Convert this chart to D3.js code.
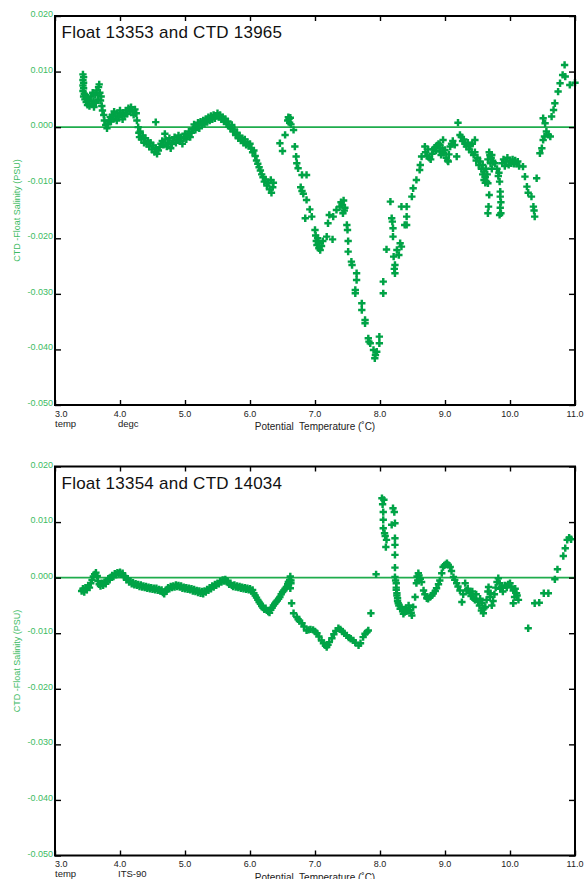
<!DOCTYPE html>
<html>
<head>
<meta charset="utf-8">
<script src="https://cdn.jsdelivr.net/npm/d3@7"></script>
<style>
  body { margin: 0; background: #fff; }
  svg { display: block; }
  text { font-family: "Liberation Sans", Arial, Helvetica, sans-serif; }
</style>
</head>
<body>
<svg id="chart" width="586" height="879"></svg>
<script>
// Potential temperature axis (deg C)
const tempTicks = [3, 4, 5, 6, 7, 8, 9, 10, 11];
const tempTickLabels = ["3.0", "4.0", "5.0", "6.0", "7.0", "8.0", "9.0", "10.0", "11.0"];

// Salinity difference axis (PSU)
const salTicks = [0.02, 0.01, 0, -0.01, -0.02, -0.03, -0.04, -0.05];
const salTickLabels = ["0.020", "0.010", "0.000", "-0.010", "-0.020", "-0.030", "-0.040", "-0.050"];

// CTD minus float salinity, [potential temperature, difference]
const profile13353 = [
  [3.43,0.0095],[3.44,0.0090],[3.43,0.0085],[3.44,0.0080],[3.43,0.0075],[3.44,0.0070],[3.43,0.0065],[3.45,0.0060],[3.44,0.0055],[3.46,0.0050],[3.47,0.0058],[3.48,0.0045],[3.49,0.0052],[3.50,0.0040],
  [3.52,0.0048],[3.53,0.0038],[3.55,0.0055],[3.56,0.0042],[3.58,0.0062],[3.59,0.0047],[3.60,0.0036],[3.62,0.0058],[3.63,0.0044],[3.64,0.0066],[3.66,0.0050],[3.67,0.0072],[3.68,0.0077],[3.69,0.0062],[3.70,0.0048],[3.71,0.0055],[3.72,0.0038],[3.73,0.0030],[3.75,0.0022],[3.76,0.0012],[3.78,0.0004],[3.80,-0.0002],[3.81,0.0005],
  [3.83,0.0012],[3.85,0.0018],[3.86,0.0010],[3.88,0.0022],[3.90,0.0015],[3.91,0.0028],[3.93,0.0020],[3.95,0.0012],[3.96,0.0025],[3.98,0.0018],[4.00,0.0030],[4.02,0.0022],[4.04,0.0014],[4.05,0.0026],[4.07,0.0020],[4.09,0.0030],[4.11,0.0024],[4.13,0.0034],[4.15,0.0028],[4.17,0.0036],[4.19,0.0030],[4.21,0.0022],[4.23,0.0032],[4.25,0.0025],[4.26,0.0012],
  [4.28,0.0000],[4.29,-0.0010],[4.30,-0.0018],[4.31,-0.0008],
  [4.33,-0.0022],[4.35,-0.0015],[4.37,-0.0028],[4.39,-0.0020],[4.41,-0.0030],[4.43,-0.0025],[4.45,-0.0035],[4.47,-0.0028],[4.49,-0.0040],[4.51,-0.0033],[4.53,-0.0045],[4.55,0.0009],[4.55,-0.0038],[4.57,-0.0048],[4.59,-0.0042],[4.61,-0.0036],[4.63,-0.0030],[4.65,-0.0025],[4.67,-0.0032],[4.69,-0.0012],[4.70,-0.0022],[4.72,-0.0035],[4.74,-0.0028],[4.76,-0.0020],[4.78,-0.0038],[4.80,-0.0030],[4.82,-0.0024],[4.84,-0.0018],[4.86,-0.0028],[4.88,-0.0022],[4.90,-0.0015],[4.92,-0.0025],[4.94,-0.0018],[4.96,-0.0030],[4.98,-0.0020],[5.00,-0.0012],[5.02,-0.0022],[5.04,-0.0015],[5.06,-0.0008],[5.08,-0.0018],[5.10,-0.0010],
  [5.12,-0.0003],[5.14,0.0005],[5.16,-0.0005],[5.18,0.0002],[5.20,0.0008],[5.22,-0.0002],[5.24,0.0010],[5.26,0.0004],[5.28,0.0012],[5.30,0.0006],[5.32,0.0015],[5.34,0.0009],[5.36,0.0018],[5.38,0.0012],[5.40,0.0020],[5.42,0.0014],[5.44,0.0022],[5.46,0.0016],[5.48,0.0020],[5.50,0.0025],[5.52,0.0018],[5.54,0.0022],[5.56,0.0014],[5.58,0.0018],[5.60,0.0010],[5.62,0.0015],[5.64,0.0006],[5.66,0.0010],[5.68,0.0002],
  [5.70,-0.0002],[5.72,0.0004],[5.74,-0.0008],[5.76,-0.0004],[5.78,-0.0014],[5.80,-0.0010],[5.82,-0.0020],[5.84,-0.0016],[5.86,-0.0024],[5.88,-0.0020],[5.90,-0.0028],[5.92,-0.0022],[5.94,-0.0032],[5.96,-0.0027],[5.98,-0.0034],[6.00,-0.0030],[6.02,-0.0038],[6.04,-0.0045],[6.06,-0.0042],[6.08,-0.0052],[6.10,-0.0060],[6.12,-0.0066],[6.14,-0.0072],[6.16,-0.0078],[6.18,-0.0085],[6.20,-0.0090],[6.22,-0.0098],[6.24,-0.0094],[6.26,-0.0105],[6.28,-0.0100],[6.30,-0.0112],[6.32,-0.0095],[6.33,-0.0118],[6.35,-0.0108],[6.36,-0.0100],
  [6.46,-0.0029],[6.50,-0.0043],[6.54,-0.0014],[6.58,0.0012],[6.59,0.0018],[6.60,0.0015],[6.61,0.0008],[6.62,0.0017],[6.63,0.0005],[6.67,-0.0005],[6.69,-0.0035],[6.71,-0.0053],[6.72,-0.0065],[6.74,-0.0074],[6.80,-0.0086],[6.87,-0.0086],[6.78,-0.0108],[6.80,-0.0115],[6.82,-0.0120],[6.87,-0.0131],[6.92,-0.0148],[6.85,-0.0164],[6.95,-0.0161],
  [7.00,-0.0185],[7.01,-0.0195],[7.02,-0.0205],[7.03,-0.0212],[7.04,-0.0200],[7.05,-0.0208],[7.06,-0.0218],[7.08,-0.0221],[7.10,-0.0214],[7.12,-0.0205],[7.18,-0.0197],[7.27,-0.0202],[7.20,-0.0173],[7.22,-0.0158],[7.28,-0.0161],[7.33,-0.0149],[7.38,-0.0143],[7.40,-0.0135],[7.42,-0.0140],[7.44,-0.0132],[7.43,-0.0155],[7.45,-0.0150],[7.46,-0.0145],
  [7.49,-0.0176],[7.50,-0.0185],[7.51,-0.0205],[7.51,-0.0224],[7.56,-0.0242],[7.57,-0.0248],[7.64,-0.0263],[7.64,-0.0275],[7.62,-0.0293],[7.62,-0.0299],[7.72,-0.0317],[7.72,-0.0329],[7.77,-0.0347],[7.77,-0.0353],[7.82,-0.0380],[7.83,-0.0386],[7.85,-0.0389],[7.90,-0.0401],[7.92,-0.0416],[7.93,-0.0410],[7.95,-0.0404],[7.99,-0.0377],[7.99,-0.0389],
  [8.05,-0.0299],[8.05,-0.0278],[8.10,-0.0220],[8.16,-0.0134],[8.18,-0.0164],[8.19,-0.0170],[8.20,-0.0182],[8.20,-0.0197],[8.21,-0.0233],[8.22,-0.0255],[8.23,-0.0248],[8.23,-0.0263],[8.26,-0.0221],[8.29,-0.0230],[8.31,-0.0209],[8.33,-0.0215],[8.33,-0.0143],[8.38,-0.0176],[8.41,-0.0143],[8.41,-0.0161],[8.41,-0.0176],
  [8.49,-0.0125],[8.51,-0.0110],[8.56,-0.0095],[8.61,-0.0077],[8.62,-0.0068],[8.64,-0.0053],[8.69,-0.0035],[8.70,-0.0045],[8.72,-0.0052],[8.74,-0.0040],[8.76,-0.0055],[8.78,-0.0058],[8.80,-0.0048],[8.82,-0.0040],[8.84,-0.0037],[8.85,-0.0038],[8.86,-0.0042],[8.88,-0.0033],[8.90,-0.0030],[8.92,-0.0032],[8.92,-0.0044],[8.94,-0.0050],[8.96,-0.0038],[8.97,-0.0023],[8.98,-0.0046],[9.00,-0.0041],[9.02,-0.0055],[9.04,-0.0060],[9.05,-0.0062],[9.06,-0.0049],[9.08,-0.0035],[9.10,-0.0030],[9.12,-0.0025],[9.15,-0.0032],[9.18,-0.0053],[9.20,0.0008],
  [9.23,-0.0014],[9.25,-0.0018],[9.27,-0.0025],[9.29,-0.0022],[9.31,-0.0030],[9.33,-0.0035],[9.35,-0.0028],[9.37,-0.0040],[9.39,-0.0033],[9.41,-0.0045],[9.42,-0.0030],[9.44,-0.0050],[9.46,-0.0023],[9.46,-0.0045],[9.48,-0.0060],[9.50,-0.0055],[9.52,-0.0068],[9.54,-0.0062],[9.56,-0.0075],[9.58,-0.0068],[9.58,-0.0085],[9.60,-0.0080],[9.60,-0.0095],[9.62,-0.0090],[9.62,-0.0100],[9.63,-0.0075],[9.64,-0.0098],[9.65,-0.0085],[9.66,-0.0101],[9.66,-0.0058],[9.68,-0.0045],[9.69,-0.0050],[9.70,-0.0065],[9.71,-0.0055],[9.72,-0.0050],[9.72,-0.0075],[9.74,-0.0063],[9.77,-0.0065],[9.68,-0.0122],[9.67,-0.0143],[9.66,-0.0155],
  [9.80,-0.0075],[9.82,-0.0088],[9.83,-0.0082],[9.84,-0.0098],[9.85,-0.0116],[9.85,-0.0125],[9.86,-0.0135],[9.85,-0.0145],[9.86,-0.0155],[9.84,-0.0158],
  [9.88,-0.0065],[9.90,-0.0058],[9.92,-0.0070],[9.94,-0.0062],[9.96,-0.0055],[9.98,-0.0068],[10.00,-0.0060],[10.02,-0.0065],[10.04,-0.0058],[10.06,-0.0066],[10.08,-0.0060],[10.10,-0.0066],[10.12,-0.0062],[10.14,-0.0070],
  [10.20,-0.0071],[10.23,-0.0089],[10.26,-0.0107],[10.28,-0.0118],[10.33,-0.0125],[10.36,-0.0143],[10.37,-0.0150],[10.38,-0.0161],[10.41,-0.0092],
  [10.46,-0.0047],[10.49,-0.0038],[10.51,-0.0023],[10.53,-0.0017],[10.56,-0.0008],[10.59,-0.0014],[10.62,-0.0017],[10.51,0.0016],[10.54,0.0007],[10.64,0.0019],[10.67,0.0031],[10.69,0.0043],[10.74,0.0064],[10.77,0.0079],[10.81,0.0094],[10.84,0.0112],[10.85,0.0091],[10.92,0.0076],[11.00,0.0080]
];

const profile14034 = [
  [3.41,-0.0024],[3.43,-0.0020],[3.45,-0.0026],[3.47,-0.0018],[3.49,-0.0022],[3.51,-0.0014],[3.53,-0.0018],[3.55,-0.0010],[3.57,-0.0004],[3.59,0.0002],[3.61,0.0006],[3.63,0.0009],[3.65,0.0003],[3.66,-0.0006],[3.68,-0.0012],[3.70,-0.0015],[3.72,-0.0010],[3.74,-0.0014],[3.76,-0.0008],[3.78,-0.0011],[3.80,-0.0006],[3.82,-0.0002],[3.84,-0.0004],[3.86,0.0001],[3.88,0.0004],[3.90,0.0002],[3.92,0.0007],[3.94,0.0005],[3.96,0.0009],[3.98,0.0007],[4.00,0.0010],[4.02,0.0006],[4.04,0.0008],[4.06,0.0003],[4.08,0.0001],[4.10,-0.0004],[4.12,-0.0002],[4.14,-0.0008],[4.16,-0.0006],[4.18,-0.0011],[4.20,-0.0009],[4.22,-0.0013],[4.24,-0.0011],[4.26,-0.0014],[4.28,-0.0012],[4.30,-0.0016],[4.32,-0.0013],[4.34,-0.0017],[4.36,-0.0015],[4.38,-0.0018],[4.40,-0.0016],[4.42,-0.0019],[4.44,-0.0017],[4.46,-0.0020],[4.48,-0.0018],[4.50,-0.0021],[4.52,-0.0019],[4.54,-0.0022],[4.56,-0.0019],[4.58,-0.0023],[4.60,-0.0021],[4.62,-0.0024],[4.64,-0.0022],[4.66,-0.0027],[4.68,-0.0029],[4.70,-0.0025],[4.72,-0.0021],[4.74,-0.0018],[4.76,-0.0020],[4.78,-0.0016],[4.80,-0.0018],[4.82,-0.0015],[4.84,-0.0017],[4.86,-0.0013],[4.88,-0.0016],[4.90,-0.0014],[4.92,-0.0017],[4.94,-0.0015],[4.96,-0.0019],[4.98,-0.0017],[5.00,-0.0020],[5.02,-0.0018],[5.04,-0.0021],[5.06,-0.0019],[5.08,-0.0022],[5.10,-0.0020],[5.12,-0.0024],[5.14,-0.0021],[5.16,-0.0025],[5.18,-0.0023],[5.20,-0.0027],[5.22,-0.0024],[5.24,-0.0028],[5.26,-0.0025],[5.28,-0.0029],[5.30,-0.0024],[5.32,-0.0026],[5.34,-0.0021],[5.36,-0.0023],[5.38,-0.0018],[5.40,-0.0020],[5.42,-0.0015],[5.44,-0.0017],[5.46,-0.0012],[5.48,-0.0014],[5.50,-0.0010],[5.52,-0.0011],[5.54,-0.0007],[5.56,-0.0008],[5.58,-0.0004],[5.60,-0.0006],[5.62,-0.0003],[5.64,-0.0006],[5.66,-0.0009],[5.68,-0.0012],[5.70,-0.0010],[5.72,-0.0014],[5.74,-0.0016],[5.76,-0.0013],[5.78,-0.0017],[5.80,-0.0015],[5.82,-0.0018],[5.84,-0.0016],[5.86,-0.0019],[5.88,-0.0017],[5.90,-0.0020],[5.92,-0.0018],[5.94,-0.0021],[5.96,-0.0019],[5.98,-0.0022],[6.00,-0.0020],[6.02,-0.0024],[6.04,-0.0022],[6.06,-0.0028],[6.08,-0.0032],[6.10,-0.0036],[6.12,-0.0040],[6.14,-0.0044],[6.16,-0.0047],[6.18,-0.0051],[6.20,-0.0054],[6.22,-0.0057],[6.24,-0.0055],[6.26,-0.0059],[6.28,-0.0061],[6.30,-0.0063],[6.32,-0.0058],[6.34,-0.0054],[6.36,-0.0050],[6.38,-0.0047],[6.40,-0.0044],[6.42,-0.0041],[6.44,-0.0038],[6.46,-0.0035],[6.48,-0.0030],[6.50,-0.0026],[6.52,-0.0023],[6.54,-0.0020],[6.56,-0.0017],[6.58,-0.0012],[6.60,-0.0008],[6.61,-0.0004],[6.62,0.0002],[6.63,-0.0010],
  [6.59,-0.0008],[6.62,-0.0019],[6.63,-0.0005],[6.64,-0.0046],[6.67,-0.0064],[6.72,-0.0071],[6.74,-0.0075],[6.76,-0.0078],[6.80,-0.0082],[6.83,-0.0088],[6.87,-0.0095],[6.90,-0.0094],[6.93,-0.0093],[6.97,-0.0094],[7.00,-0.0097],[7.03,-0.0100],[7.06,-0.0106],[7.10,-0.0113],[7.13,-0.0118],[7.16,-0.0122],[7.18,-0.0125],[7.20,-0.0121],[7.22,-0.0116],[7.26,-0.0109],[7.29,-0.0102],[7.32,-0.0096],[7.36,-0.0091],[7.39,-0.0093],[7.42,-0.0097],[7.45,-0.0100],[7.49,-0.0104],[7.52,-0.0108],[7.55,-0.0110],[7.59,-0.0113],[7.62,-0.0117],[7.67,-0.0122],[7.70,-0.0118],[7.74,-0.0107],[7.77,-0.0101],[7.80,-0.0098],[7.82,-0.0095],[7.86,-0.0064],[7.94,0.0006],
  [8.03,0.0143],[8.04,0.0132],[8.06,0.0140],[8.05,0.0118],[8.05,0.0104],[8.05,0.0089],[8.07,0.0080],[8.08,0.0075],[8.10,0.0068],[8.09,0.0055],[8.20,0.0125],[8.22,0.0118],[8.18,0.0095],[8.23,0.0098],[8.23,0.0071],[8.23,0.0059],[8.23,0.0041],[8.23,0.0018],[8.23,0.0001],[8.24,-0.0005],[8.25,-0.0010],[8.25,-0.0018],[8.25,-0.0022],[8.26,-0.0028],[8.26,-0.0032],[8.27,-0.0037],[8.27,-0.0042],[8.28,-0.0046],[8.29,-0.0050],[8.31,-0.0056],[8.33,-0.0053],[8.35,-0.0058],[8.36,-0.0065],[8.38,-0.0062],[8.40,-0.0055],[8.42,-0.0060],[8.44,-0.0050],[8.46,-0.0058],[8.48,-0.0063],[8.49,-0.0068],[8.51,-0.0053],[8.54,-0.0035],[8.56,-0.0010],[8.57,0.0002],[8.58,-0.0005],[8.59,0.0008],[8.60,0.0004],[8.62,-0.0002],[8.64,-0.0008],[8.67,-0.0023],[8.69,-0.0030],[8.72,-0.0037],[8.74,-0.0038],[8.77,-0.0035],[8.80,-0.0032],[8.82,-0.0028],[8.85,-0.0024],[8.87,-0.0019],[8.90,-0.0012],[8.92,-0.0005],[8.95,0.0008],[8.97,0.0019],[8.99,0.0022],[9.01,0.0024],[9.03,0.0026],[9.05,0.0023],[9.08,0.0019],[9.10,0.0012],[9.13,0.0001],[9.15,-0.0004],[9.18,-0.0010],[9.20,-0.0016],[9.23,-0.0023],[9.26,-0.0044],[9.28,-0.0030],[9.31,-0.0010],[9.33,-0.0023],[9.35,-0.0020],[9.38,-0.0028],[9.40,-0.0033],[9.42,-0.0025],[9.44,-0.0037],[9.46,-0.0040],[9.48,-0.0030],[9.51,-0.0044],[9.53,-0.0050],[9.54,-0.0038],[9.56,-0.0059],[9.57,-0.0045],[9.59,-0.0064],[9.60,-0.0055],[9.62,-0.0053],[9.64,-0.0040],[9.66,-0.0025],[9.67,-0.0017],[9.69,-0.0035],[9.70,-0.0028],[9.72,-0.0050],[9.74,-0.0042],[9.76,-0.0030],[9.78,-0.0018],[9.80,-0.0008],[9.82,-0.0001],[9.84,-0.0010],[9.85,-0.0020],[9.87,-0.0017],[9.89,-0.0025],[9.92,-0.0014],[9.95,-0.0018],[9.97,-0.0012],[10.00,-0.0010],[10.02,-0.0016],[10.05,-0.0023],[10.05,-0.0046],[10.07,-0.0035],[10.08,-0.0020],[10.10,-0.0028],[10.11,-0.0032],[10.13,-0.0040],
  [10.28,-0.0091],[10.38,-0.0046],[10.45,-0.0045],[10.52,-0.0028],[10.59,-0.0028],[10.69,-0.0003],[10.73,0.0015],[10.82,0.0039],[10.85,0.0053],[10.88,0.0068],[10.91,0.0072],[10.94,0.0069]
];

const panelTitles = ["Float 13353 and CTD 13965", "Float 13354 and CTD 14034"];
const unitNotes = ["degc", "ITS-90"];
const profiles = [profile13353, profile14034];

// Layout
const plotLeft = 55, plotRight = 575;
const panelFrames = [{ top: 16, bottom: 405 }, { top: 466.5, bottom: 855.5 }];

const pointColor = "#00a346";
const zeroColor = "#1fac4c";
const labelGreen = "#3dbb63";

const svg = d3.select("#chart");
const x = d3.scaleLinear().domain([3, 11]).range([plotLeft, plotRight]);
const cross = d3.symbol(d3.symbolCross, 30);

profiles.forEach((data, i) => {
  const { top, bottom } = panelFrames[i];
  const y = d3.scaleLinear().domain([-0.05, 0.02]).range([bottom, top]);
  const g = svg.append("g");

  // zero reference line
  g.append("line")
    .attr("x1", plotLeft).attr("x2", plotRight)
    .attr("y1", y(0)).attr("y2", y(0))
    .attr("stroke", zeroColor).attr("stroke-width", 1.6);

  // salinity differences
  g.append("g").selectAll("path").data(data).join("path")
    .attr("transform", d => `translate(${x(d[0])},${y(d[1])})`)
    .attr("d", cross)
    .attr("fill", pointColor);

  // inward ticks on all four sides
  const styleTicks = a => {
    a.select(".domain").remove();
    a.selectAll("line").attr("stroke", "#000").attr("stroke-width", 1.4);
  };
  g.append("g").attr("transform", `translate(0,${bottom})`)
    .call(d3.axisBottom(x).tickValues(tempTicks).tickSize(-5).tickFormat(""))
    .call(styleTicks);
  g.append("g").attr("transform", `translate(0,${top})`)
    .call(d3.axisTop(x).tickValues(tempTicks).tickSize(-5).tickFormat(""))
    .call(styleTicks);
  g.append("g").attr("transform", `translate(${plotLeft},0)`)
    .call(d3.axisLeft(y).tickValues(salTicks).tickSize(-6).tickFormat(""))
    .call(styleTicks);
  g.append("g").attr("transform", `translate(${plotRight},0)`)
    .call(d3.axisRight(y).tickValues(salTicks).tickSize(-6).tickFormat(""))
    .call(styleTicks);

  // frame
  g.append("rect")
    .attr("x", plotLeft).attr("y", top)
    .attr("width", plotRight - plotLeft).attr("height", bottom - top)
    .attr("fill", "none").attr("stroke", "#000").attr("stroke-width", 2);

  // y tick labels
  g.append("g").selectAll("text").data(salTicks).join("text")
    .attr("x", plotLeft - 2)
    .attr("y", d => y(d) + 1)
    .attr("text-anchor", "end")
    .attr("font-size", 9)
    .attr("fill", labelGreen)
    .text((d, k) => salTickLabels[k]);

  // x tick labels (the first one starts at the axis corner)
  g.append("g").selectAll("text").data(tempTicks).join("text")
    .attr("x", d => x(d))
    .attr("y", bottom + 11.5)
    .attr("text-anchor", (d, k) => k === 0 ? "start" : "middle")
    .attr("font-size", 9)
    .attr("fill", "#222")
    .text((d, k) => tempTickLabels[k]);

  // notes under the axis
  g.append("text").attr("x", plotLeft).attr("y", bottom + 21.5)
    .attr("font-size", 9.5).attr("fill", "#222").text("temp");
  g.append("text").attr("x", x(4) - 2).attr("y", bottom + 21.5)
    .attr("font-size", 9.5).attr("fill", "#222").text(unitNotes[i]);
  g.append("text").attr("x", (plotLeft + plotRight) / 2).attr("y", bottom + 25)
    .attr("text-anchor", "middle")
    .attr("font-size", 10).attr("fill", "#222")
    .attr("xml:space", "preserve")
    .text("Potential  Temperature (\u02DAC)");

  // y axis title
  g.append("text")
    .attr("transform", `translate(20,${(top + bottom) / 2}) rotate(-90)`)
    .attr("text-anchor", "middle")
    .attr("font-size", 9)
    .attr("fill", labelGreen)
    .text("CTD -Float Salinity (PSU)");

  // panel title
  g.append("text")
    .attr("x", plotLeft + 6.5).attr("y", top + 22)
    .attr("font-size", 17)
    .attr("letter-spacing", 0.25)
    .attr("fill", "#111")
    .text(panelTitles[i]);
});
</script>
</body>
</html>
